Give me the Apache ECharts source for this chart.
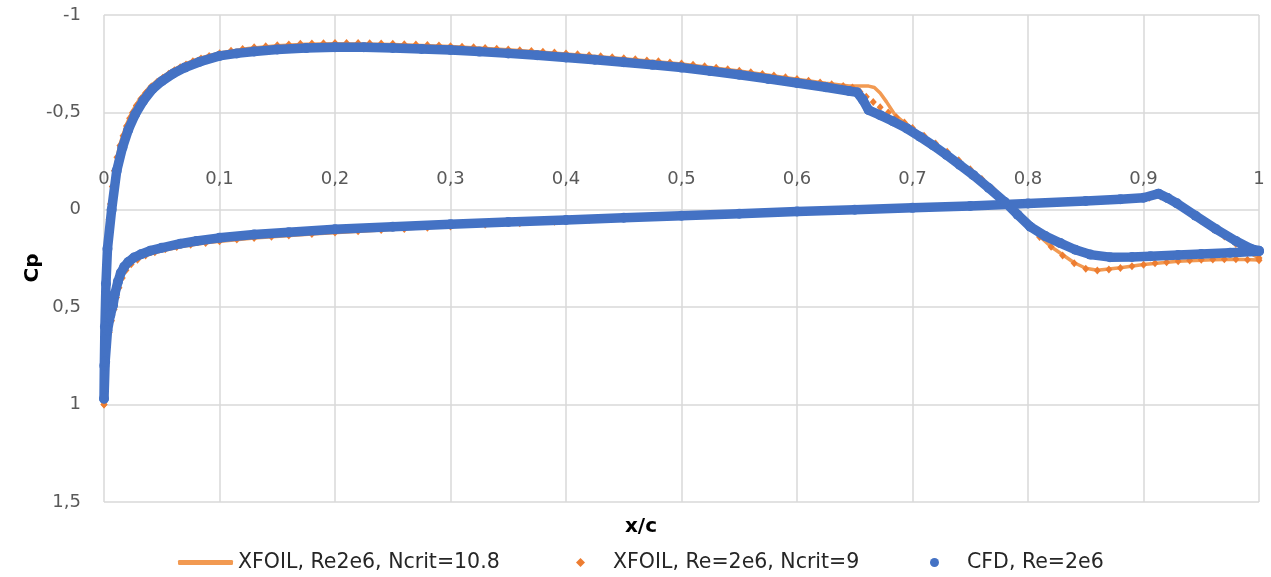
<!DOCTYPE html>
<html>
<head>
<meta charset="utf-8">
<script src="https://cdn.jsdelivr.net/npm/echarts@6/dist/echarts.min.js"></script>
<style>
  html, body { margin: 0; padding: 0; background: #fff; }
  #chart { width: 1271px; height: 577px; }
</style>
</head>
<body>
<div id="chart"></div>
<script>
// Pressure coefficient along the chord, [x/c, Cp]

// Axis ticks
const xTicks = [0, 0.1, 0.2, 0.3, 0.4, 0.5, 0.6, 0.7, 0.8, 0.9, 1];
const cpTicks = [-1, -0.5, 0, 0.5, 1, 1.5];

// Series names
const seriesNames = ['XFOIL, Re2e6, Ncrit=10.8', 'XFOIL, Re=2e6, Ncrit=9', 'CFD, Re=2e6'];

// XFOIL, Ncrit = 10.8 (solid line) — upper surface, leading edge to trailing edge
const xfoil108Upper = [
  [0, 1.0], [0.0003, 0.8], [0.0008, 0.6], [0.0017, 0.36], [0.0035, 0.15], [0.0055, -0.03],
  [0.009, -0.2], [0.0135, -0.33], [0.019, -0.43], [0.024, -0.5], [0.031, -0.57],
  [0.04, -0.635], [0.05, -0.68], [0.06, -0.718], [0.07, -0.748], [0.083, -0.778],
  [0.1, -0.805], [0.125, -0.828], [0.15, -0.842], [0.175, -0.85], [0.2, -0.853],
  [0.25, -0.849], [0.3, -0.838], [0.35, -0.821], [0.4, -0.8], [0.45, -0.776],
  [0.5, -0.749], [0.55, -0.712], [0.6, -0.67], [0.625, -0.65], [0.645, -0.636],
  [0.655, -0.636], [0.662, -0.635], [0.667, -0.628], [0.672, -0.6], [0.6775, -0.554],
  [0.685, -0.486], [0.692, -0.452], [0.7, -0.415], [0.72, -0.335], [0.74, -0.25],
  [0.76, -0.155], [0.78, -0.045], [0.8, 0.082], [0.82, 0.19], [0.84, 0.272],
  [0.85, 0.3], [0.86, 0.31], [0.88, 0.298], [0.9, 0.281], [0.93, 0.264],
  [0.96, 0.256], [0.98, 0.254], [1, 0.258]
];
// XFOIL, Ncrit = 10.8 — lower surface, leading edge to trailing edge
const xfoil108Lower = [
  [0, 1.0], [0.0015, 0.78], [0.004, 0.63], [0.0085, 0.5], [0.012, 0.4], [0.0175, 0.31],
  [0.026, 0.26], [0.037, 0.232], [0.05, 0.21], [0.067, 0.188], [0.09, 0.168], [0.13, 0.145],
  [0.18, 0.124], [0.24, 0.104], [0.3, 0.086], [0.4, 0.058], [0.5, 0.032],
  [0.6, 0.009], [0.7, -0.011], [0.8, -0.032], [0.87, -0.049], [0.905, -0.062],
  [0.915, -0.068], [0.93, -0.022], [0.95, 0.058], [0.97, 0.137], [0.99, 0.214], [1, 0.248]
];

// XFOIL, Ncrit = 9 (diamonds) — upper surface
const xfoil9Upper = [
  [0, 1.0], [0.0001, 0.9], [0.0003, 0.8], [0.0005, 0.7], [0.0008, 0.6], [0.0012, 0.48],
  [0.0018, 0.36], [0.0025, 0.25], [0.0034, 0.15], [0.0044, 0.05], [0.0056, -0.03],
  [0.0072, -0.12], [0.009, -0.2], [0.0112, -0.27], [0.0138, -0.33], [0.0165, -0.38],
  [0.0195, -0.43], [0.0222, -0.47], [0.0248, -0.5], [0.028, -0.535], [0.032, -0.57],
  [0.036, -0.6], [0.041, -0.633], [0.046, -0.657], [0.051, -0.678], [0.056, -0.698],
  [0.061, -0.716], [0.066, -0.732], [0.071, -0.746], [0.077, -0.762], [0.084, -0.777],
  [0.091, -0.79], [0.1, -0.804], [0.11, -0.816], [0.12, -0.826], [0.13, -0.834],
  [0.14, -0.84], [0.15, -0.845], [0.16, -0.849], [0.17, -0.852], [0.18, -0.854],
  [0.19, -0.855], [0.2, -0.856], [0.21, -0.856], [0.22, -0.856], [0.23, -0.855],
  [0.24, -0.854], [0.25, -0.852], [0.26, -0.85], [0.27, -0.848], [0.28, -0.846],
  [0.29, -0.843], [0.3, -0.84], [0.31, -0.837], [0.32, -0.834], [0.33, -0.831],
  [0.34, -0.827], [0.35, -0.823], [0.36, -0.819], [0.37, -0.815], [0.38, -0.811],
  [0.39, -0.807], [0.4, -0.802], [0.41, -0.798], [0.42, -0.793], [0.43, -0.788],
  [0.44, -0.783], [0.45, -0.778], [0.46, -0.773], [0.47, -0.767], [0.48, -0.762],
  [0.49, -0.756], [0.5, -0.751], [0.51, -0.744], [0.52, -0.737], [0.53, -0.729],
  [0.54, -0.722], [0.55, -0.714], [0.56, -0.706], [0.57, -0.697], [0.58, -0.689],
  [0.59, -0.681], [0.6, -0.672], [0.61, -0.663], [0.62, -0.654], [0.63, -0.645],
  [0.64, -0.636], [0.648, -0.628], [0.6545, -0.606], [0.66, -0.58], [0.666, -0.553],
  [0.672, -0.527], [0.679, -0.5], [0.686, -0.475], [0.693, -0.448], [0.7, -0.42],
  [0.71, -0.38], [0.72, -0.34], [0.73, -0.298], [0.74, -0.254], [0.75, -0.208],
  [0.76, -0.158], [0.77, -0.104], [0.78, -0.047], [0.79, 0.017], [0.8, 0.082],
  [0.81, 0.14], [0.82, 0.19], [0.83, 0.235], [0.84, 0.274], [0.85, 0.302],
  [0.86, 0.312], [0.87, 0.307], [0.88, 0.299], [0.89, 0.29], [0.9, 0.282],
  [0.91, 0.275], [0.92, 0.269], [0.93, 0.264], [0.94, 0.26], [0.95, 0.257],
  [0.96, 0.255], [0.97, 0.254], [0.98, 0.254], [0.99, 0.256], [1, 0.259]
];
// XFOIL, Ncrit = 9 — lower surface
const xfoil9Lower = [
  [0, 1.0], [0.0005, 0.88], [0.0014, 0.78], [0.0028, 0.7], [0.0045, 0.63], [0.0065, 0.57],
  [0.0088, 0.51], [0.0108, 0.45], [0.013, 0.4], [0.0158, 0.35], [0.019, 0.31],
  [0.0235, 0.28], [0.029, 0.256], [0.036, 0.235], [0.044, 0.218], [0.053, 0.203],
  [0.063, 0.191], [0.075, 0.18], [0.088, 0.17], [0.1, 0.162], [0.115, 0.153],
  [0.13, 0.145], [0.145, 0.138], [0.16, 0.132], [0.18, 0.124], [0.2, 0.117],
  [0.22, 0.11], [0.24, 0.104], [0.26, 0.098], [0.28, 0.092], [0.3, 0.086],
  [0.33, 0.077], [0.36, 0.069], [0.39, 0.061], [0.42, 0.053], [0.45, 0.045],
  [0.48, 0.037], [0.51, 0.03], [0.54, 0.023], [0.57, 0.016], [0.6, 0.009],
  [0.63, 0.003], [0.66, -0.003], [0.69, -0.009], [0.72, -0.015], [0.75, -0.021],
  [0.78, -0.027], [0.81, -0.034], [0.84, -0.041], [0.87, -0.049], [0.89, -0.055],
  [0.905, -0.062], [0.915, -0.068], [0.922, -0.052], [0.93, -0.022], [0.94, 0.018],
  [0.95, 0.058], [0.96, 0.098], [0.97, 0.137], [0.98, 0.176], [0.99, 0.214], [1, 0.248]
];

// CFD — upper surface
const cfdUpper = [
  [0, 0.97], [0.0003, 0.8], [0.0008, 0.6], [0.0017, 0.38], [0.003, 0.2], [0.0066, 0],
  [0.011, -0.2], [0.016, -0.32], [0.021, -0.41], [0.027, -0.49], [0.034, -0.56],
  [0.042, -0.62], [0.05, -0.66], [0.06, -0.7], [0.07, -0.73], [0.083, -0.76],
  [0.1, -0.79], [0.115, -0.803], [0.13, -0.813], [0.15, -0.823], [0.175, -0.83],
  [0.2, -0.834], [0.225, -0.834], [0.25, -0.831], [0.275, -0.826], [0.3, -0.82],
  [0.325, -0.812], [0.35, -0.803], [0.375, -0.793], [0.4, -0.782], [0.425, -0.77],
  [0.45, -0.757], [0.475, -0.744], [0.5, -0.73], [0.525, -0.712], [0.55, -0.693],
  [0.575, -0.672], [0.6, -0.651], [0.625, -0.629], [0.645, -0.61], [0.652, -0.603],
  [0.657, -0.565], [0.662, -0.512], [0.672, -0.486], [0.683, -0.455], [0.695, -0.418],
  [0.7065, -0.375], [0.718, -0.33], [0.7295, -0.281], [0.741, -0.23], [0.7527, -0.178],
  [0.766, -0.112], [0.78, -0.04], [0.791, 0.025], [0.802, 0.087], [0.815, 0.135],
  [0.828, 0.171], [0.841, 0.205], [0.854, 0.23], [0.871, 0.243], [0.89, 0.242],
  [0.906, 0.238], [0.93, 0.232], [0.95, 0.227], [0.975, 0.22], [1, 0.213]
];
// CFD — lower surface
const cfdLower = [
  [0, 0.97], [0.001, 0.78], [0.003, 0.62], [0.0055, 0.54], [0.0078, 0.49], [0.0095, 0.43],
  [0.012, 0.37], [0.0145, 0.325], [0.0175, 0.292], [0.021, 0.268], [0.026, 0.245],
  [0.032, 0.228], [0.04, 0.21], [0.05, 0.195], [0.066, 0.174], [0.08, 0.16],
  [0.1, 0.144], [0.13, 0.127], [0.16, 0.115], [0.2, 0.1], [0.25, 0.087],
  [0.3, 0.074], [0.35, 0.063], [0.4, 0.052], [0.45, 0.041], [0.5, 0.031],
  [0.55, 0.02], [0.6, 0.009], [0.65, 0], [0.7, -0.01], [0.75, -0.02],
  [0.8, -0.032], [0.85, -0.045], [0.88, -0.054], [0.9, -0.062], [0.913, -0.083],
  [0.921, -0.06], [0.929, -0.033], [0.945, 0.03], [0.963, 0.1], [0.98, 0.16],
  [0.993, 0.2], [1, 0.21]
];

// Closed contour: trailing edge -> upper surface -> leading edge -> lower surface -> trailing edge
function contour(upper, lower) {
  return upper.slice().reverse().concat(lower.slice(1));
}

const BLUE = '#4472C4';
const ORANGE = '#ED7D31';
const ORANGE_LINE = '#F29A52';
const GRID = '#D9D9D9';
const FONT = '"DejaVu Sans", "Noto Sans", sans-serif';
const fmt = v => String(+v.toFixed(2)).replace('.', ',');

const plotLeft = 104, plotRight = 12;

const chart = echarts.init(document.getElementById('chart'), null, { renderer: 'canvas' });

const legendText = { color: '#262626', fontSize: 20.5, fontFamily: FONT };
const markerText = Object.assign({}, legendText, { padding: [0, 0, 0, 23] });

chart.setOption({
  animation: false,
  backgroundColor: '#fff',
  grid: [
    // plotting area
    { left: plotLeft, right: plotRight, top: 15, bottom: 75, containLabel: false, outerBoundsMode: 'none' },
    // thin strip just under Cp = 0 that carries the x/c tick labels above the zero line
    { left: plotLeft, right: plotRight, top: 200, height: 10, containLabel: false, outerBoundsMode: 'none' }
  ],
  xAxis: [
    {
      gridIndex: 0,
      type: 'value',
      min: xTicks[0],
      max: xTicks[xTicks.length - 1],
      interval: xTicks[1] - xTicks[0],
      axisLine: { show: false },
      axisTick: { show: false },
      axisLabel: { show: false },
      splitLine: { show: true, lineStyle: { color: GRID, width: 1.5 } }
    },
    {
      gridIndex: 1,
      type: 'value',
      position: 'top',
      min: xTicks[0],
      max: xTicks[xTicks.length - 1],
      interval: xTicks[1] - xTicks[0],
      axisLine: { show: false },
      axisTick: { show: false },
      splitLine: { show: false },
      axisLabel: {
        show: true, showMinLabel: true, showMaxLabel: true, hideOverlap: false,
        margin: 12, color: '#595959', fontSize: 18, fontFamily: FONT, formatter: fmt
      }
    }
  ],
  yAxis: [
    {
      gridIndex: 0,
      type: 'value',
      inverse: true,
      min: cpTicks[0],
      max: cpTicks[cpTicks.length - 1],
      interval: cpTicks[1] - cpTicks[0],
      axisLine: { show: false },
      axisTick: { show: false },
      axisLabel: {
        show: true, showMinLabel: true, showMaxLabel: true,
        margin: 23, color: '#595959', fontSize: 18, fontFamily: FONT, formatter: fmt
      },
      splitLine: { show: true, lineStyle: { color: GRID, width: 1.5 } }
    },
    {
      gridIndex: 1,
      type: 'value',
      show: false,
      min: 0, max: 1
    }
  ],
  legend: [
    {
      data: [{ name: seriesNames[0], icon: 'roundRect' }],
      left: 178, top: 552, padding: 0, itemWidth: 55, itemHeight: 5,
      textStyle: legendText, selectedMode: false
    },
    {
      data: [{ name: seriesNames[1], icon: 'diamond' }],
      left: 576, top: 552, padding: 0, itemWidth: 9, itemHeight: 9,
      textStyle: markerText, selectedMode: false
    },
    {
      data: [{ name: seriesNames[2], icon: 'circle' }],
      left: 930, top: 552, padding: 0, itemWidth: 9, itemHeight: 9,
      textStyle: markerText, selectedMode: false
    }
  ],
  graphic: [
    {
      type: 'text', x: 641, y: 527,
      style: { text: 'x/c', fill: '#000', font: 'bold 20px ' + FONT, textAlign: 'center', textVerticalAlign: 'middle' }
    },
    {
      type: 'text', x: 33, y: 268, rotation: Math.PI / 2,
      style: { text: 'Cp', fill: '#000', font: 'bold 20px ' + FONT, textAlign: 'center', textVerticalAlign: 'middle' }
    }
  ],
  series: [
    {
      name: seriesNames[0],
      type: 'line',
      xAxisIndex: 0, yAxisIndex: 0,
      data: contour(xfoil108Upper, xfoil108Lower),
      symbol: 'none',
      lineStyle: { color: ORANGE_LINE, width: 3.5 },
      itemStyle: { color: ORANGE_LINE },
      z: 1
    },
    {
      name: seriesNames[1],
      type: 'scatter',
      xAxisIndex: 0, yAxisIndex: 0,
      data: xfoil9Upper.concat(xfoil9Lower),
      symbol: 'diamond',
      symbolSize: [7, 8],
      itemStyle: { color: ORANGE, opacity: 1 },
      z: 2
    },
    {
      name: seriesNames[2],
      type: 'line',
      xAxisIndex: 0, yAxisIndex: 0,
      data: contour(cfdUpper, cfdLower),
      symbol: 'circle',
      symbolSize: 10,
      showSymbol: true,
      showAllSymbol: true,
      lineStyle: { color: BLUE, width: 9.5, join: 'round', cap: 'round' },
      itemStyle: { color: BLUE, borderWidth: 0 },
      z: 3
    }
  ]
});
</script>
</body>
</html>
